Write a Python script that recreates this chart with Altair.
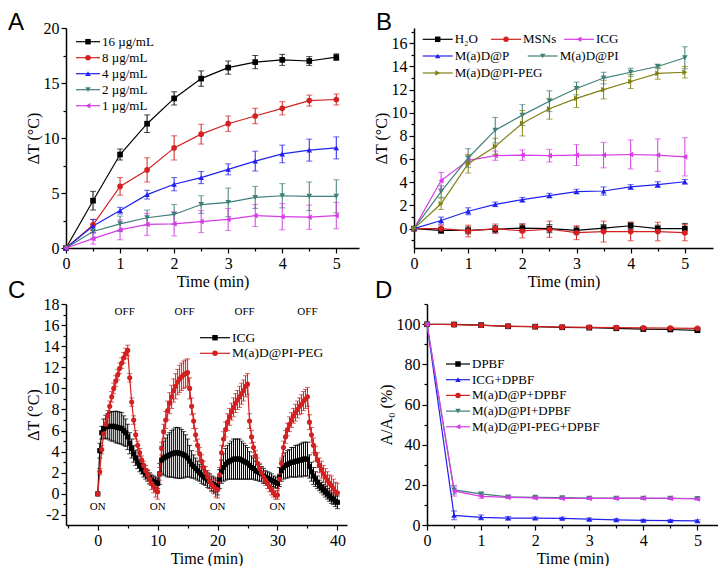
import altair as alt
import pandas as pd

SERIF = "Liberation Serif"
SANS = "Liberation Sans"

# ---------------- Panel A ----------------
A_TIME = [0, 0.5, 1, 1.5, 2, 2.5, 3, 3.5, 4, 4.5, 5]
A_NAMES = ["16 µg/mL", "8 µg/mL", "4 µg/mL", "2 µg/mL", "1 µg/mL"]
A_COLORS = ["#000000", "#d42020", "#2020f0", "#3f7f78", "#d63ce6"]
A_SHAPES = ["square", "circle", "triangle-up", "triangle-down", "triangle-left"]
A_16 = [0, 4.3, 8.5, 11.3, 13.6, 15.4, 16.4, 16.9, 17.1, 17.0, 17.35]
A_8 = [0, 2.1, 5.6, 7.1, 9.1, 10.35, 11.3, 12.0, 12.7, 13.4, 13.5]
A_4 = [0, 2.0, 3.4, 4.85, 5.8, 6.4, 7.15, 7.9, 8.55, 8.9, 9.1]
A_2 = [0, 1.5, 2.2, 2.75, 3.05, 3.95, 4.15, 4.6, 4.75, 4.7, 4.7]
A_1 = [0, 0.85, 1.65, 2.15, 2.2, 2.4, 2.6, 2.95, 2.85, 2.8, 2.95]
A_16_ERR = [0, 0.85, 0.5, 0.8, 0.6, 0.7, 0.6, 0.6, 0.5, 0.4, 0.3]
A_8_ERR = [0, 0.5, 0.8, 1.1, 1.1, 0.9, 0.7, 0.7, 0.6, 0.5, 0.5]
A_4_ERR = [0, 0.6, 0.3, 0.4, 0.6, 0.55, 0.5, 0.9, 0.8, 1.0, 1.0]
A_2_ERR = [0, 0.6, 0.7, 0.7, 0.9, 0.8, 1.3, 1.0, 1.1, 1.3, 1.5]
A_1_ERR = [0, 0.5, 0.9, 1.0, 1.1, 1.0, 1.0, 1.0, 1.2, 1.1, 1.2]

# ---------------- Panel B ----------------
B_TIME = A_TIME
B1_NAMES = ["H₂O", "MSNs", "ICG"]
B1_COLORS = ["#000000", "#d42020", "#d63ce6"]
B1_SHAPES = ["square", "circle", "triangle-left"]
B2_NAMES = ["M(a)D@P", "M(a)D@PI", "M(a)D@PI-PEG"]
B2_COLORS = ["#2020f0", "#3f7f78", "#808012"]
B2_SHAPES = ["triangle-up", "triangle-down", "triangle-right"]
B_H2O = [0, -0.15, -0.15, -0.05, 0.05, 0.0, -0.15, 0.05, 0.25, 0.0, 0.0]
B_MSN = [0, 0.0, -0.2, 0.0, -0.2, -0.05, -0.35, -0.25, -0.25, -0.25, -0.35]
B_ICG = [0, 4.15, 5.9, 6.3, 6.35, 6.3, 6.35, 6.35, 6.4, 6.35, 6.2]
B_P = [0, 0.7, 1.5, 2.1, 2.5, 2.85, 3.2, 3.25, 3.6, 3.8, 4.05]
B_PI = [0, 3.2, 6.1, 8.5, 9.8, 11.0, 12.1, 13.0, 13.5, 14.0, 14.75]
B_PEG = [0, 2.15, 5.6, 7.1, 9.1, 10.35, 11.25, 12.0, 12.7, 13.4, 13.5]
B_H2O_ERR = [0, 0.25, 0.3, 0.3, 0.35, 0.35, 0.3, 0.3, 0.3, 0.3, 0.45]
B_MSN_ERR = [0, 0.3, 0.5, 0.4, 0.6, 0.7, 0.6, 0.9, 0.8, 0.8, 0.7]
B_ICG_ERR = [0, 0.7, 0.35, 0.4, 0.45, 0.55, 0.9, 1.1, 1.25, 1.4, 1.65]
B_P_ERR = [0, 0.3, 0.3, 0.2, 0.2, 0.2, 0.2, 0.35, 0.2, 0.25, 0.2]
B_PI_ERR = [0, 0.5, 0.8, 1.1, 0.9, 0.9, 0.55, 0.5, 0.35, 0.2, 0.95]
B_PEG_ERR = [0, 0.5, 0.8, 0.7, 1.1, 0.9, 0.8, 0.8, 0.6, 0.5, 0.5]

# ---------------- Panel C ----------------
C_TIME = [round(k / 3, 4) for k in range(121)]  # sampling every 20 s
C_NAMES = ["ICG", "M(a)D@PI-PEG"]
C_COLORS = ["#000000", "#d42020"]
C_SHAPES = ["square", "circle"]
C_ICG = [0, 4.1, 5.8, 6.2, 6.35, 6.4, 6.4, 6.4, 6.4, 6.35, 6.3, 6.25, 6.2, 6.0, 5.8, 5.4,
         4.8, 4.3, 3.8, 3.4, 3.0, 2.7, 2.4, 2.1, 1.9, 1.7, 1.5, 1.3, 1.2, 1.1, 1.0,
         1.9, 3.2, 3.4, 3.5, 3.6, 3.7, 3.8, 3.85, 3.9, 3.9, 3.85, 3.8, 3.7, 3.6, 3.4,
         3.1, 2.8, 2.6, 2.4, 2.2, 2.0, 1.8, 1.6, 1.5, 1.3, 1.2, 1.0, 0.9, 0.8, 0.6,
         1.4, 2.1, 2.5, 2.8, 3.0, 3.1, 3.2, 3.3, 3.3, 3.3, 3.3, 3.2, 3.1, 3.0, 2.9,
         2.7, 2.5, 2.4, 2.2, 2.1, 2.0, 1.9, 1.7, 1.6, 1.5, 1.4, 1.3, 1.2, 1.1, 1.0,
         1.6, 2.2, 2.5, 2.7, 2.8, 2.9, 3.0, 3.0, 3.1, 3.1, 3.2, 3.2, 3.3, 3.3, 3.3,
         2.6, 2.1, 1.7, 1.4, 1.1, 0.8, 0.6, 0.4, 0.2, 0.0, -0.2, -0.4, -0.5, -0.7, -0.8]
C_ICG_ERR = [0, 0.7, 0.6, 0.9, 1.1, 1.2, 1.3, 1.4, 1.4, 1.5, 1.5, 1.5, 1.5, 1.4, 1.3, 1.2,
             1.0, 0.9, 0.8, 0.7, 0.6, 0.6, 0.5, 0.5, 0.5, 0.5, 0.5, 0.5, 0.5, 0.5, 0.5,
             1.0, 1.3, 1.6, 1.8, 2.0, 2.1, 2.2, 2.3, 2.4, 2.4, 2.4, 2.3, 2.2, 2.0, 1.8,
             1.5, 1.3, 1.1, 1.0, 0.9, 0.8, 0.8, 0.7, 0.7, 0.7, 0.7, 0.7, 0.7, 0.7, 0.7,
             0.9, 1.1, 1.3, 1.5, 1.6, 1.7, 1.8, 1.9, 1.9, 1.9, 1.9, 1.8, 1.7, 1.6, 1.5,
             1.3, 1.1, 1.0, 0.9, 0.8, 0.8, 0.7, 0.7, 0.6, 0.6, 0.6, 0.6, 0.5, 0.5, 0.5,
             0.9, 1.0, 1.1, 1.2, 1.3, 1.3, 1.4, 1.4, 1.5, 1.5, 1.5, 1.6, 1.6, 1.6, 1.6,
             1.1, 0.9, 0.8, 0.7, 0.6, 0.5, 0.5, 0.5, 0.5, 0.5, 0.5, 0.5, 0.5, 0.5, 0.6]
C_PEG = [0, 2.1, 4.2, 5.7, 6.6, 7.4, 8.3, 9.2, 10.0, 10.7, 11.3, 11.9, 12.4, 12.9, 13.3, 13.6,
         11.0, 8.7, 7.0, 5.6, 4.6, 3.9, 3.2, 2.7, 2.2, 1.8, 1.4, 1.0, 0.7, 0.4, 0.2,
         1.9, 4.3, 5.9, 7.0, 7.9, 8.6, 9.2, 9.8, 10.2, 10.6, 10.9, 11.1, 11.3, 11.4, 11.5,
         10.0, 8.3, 6.9, 5.6, 4.6, 3.8, 3.1, 2.5, 2.0, 1.6, 1.2, 0.9, 0.7, 0.5, 0.4,
         1.8, 3.9, 5.2, 6.1, 6.8, 7.3, 7.8, 8.2, 8.6, 8.9, 9.2, 9.5, 9.8, 10.2, 10.4,
         6.9, 5.4, 4.4, 3.6, 2.9, 2.4, 2.0, 1.6, 1.3, 1.0, 0.7, 0.4, 0.1, -0.1, -0.1,
         1.4, 2.9, 4.4, 5.4, 6.1, 6.6, 7.0, 7.4, 7.7, 8.0, 8.3, 8.5, 8.8, 9.0, 9.2,
         6.8, 5.6, 4.6, 3.8, 3.2, 2.7, 2.3, 1.9, 1.6, 1.3, 1.0, 0.8, 0.5, 0.2, 0.1]
C_PEG_ERR = [0, 0.3, 0.4, 0.5, 0.5, 0.5, 0.5, 0.5, 0.5, 0.5, 0.5, 0.5, 0.5, 0.5, 0.5, 0.5,
             0.4, 0.4, 0.4, 0.4, 0.4, 0.4, 0.4, 0.4, 0.5, 0.5, 0.5, 0.6, 0.6, 0.7, 0.7,
             0.6, 0.6, 0.7, 0.8, 0.9, 1.0, 1.1, 1.1, 1.2, 1.2, 1.3, 1.3, 1.3, 1.3, 1.3,
             1.0, 0.8, 0.7, 0.6, 0.6, 0.6, 0.6, 0.6, 0.6, 0.6, 0.7, 0.7, 0.7, 0.8, 0.8,
             0.7, 0.7, 0.7, 0.7, 0.8, 0.8, 0.8, 0.9, 0.9, 0.9, 1.0, 1.0, 1.0, 1.0, 1.0,
             0.7, 0.6, 0.5, 0.5, 0.5, 0.5, 0.5, 0.5, 0.5, 0.5, 0.5, 0.5, 0.4, 0.4, 0.4,
             0.5, 0.5, 0.6, 0.6, 0.6, 0.7, 0.7, 0.7, 0.8, 0.8, 0.8, 0.9, 0.9, 0.9, 0.9,
             0.7, 0.7, 0.7, 0.7, 0.7, 0.7, 0.8, 0.8, 0.8, 0.8, 0.8, 0.9, 0.9, 0.9, 0.9]
C_ON_T = [0, 10, 20, 30]
C_ON_Y = [-1.2, -1.2, -1.2, -1.2]
C_OFF_T = [4.5, 14.5, 24.5, 35]
C_OFF_Y = [17.2, 17.2, 17.2, 17.2]

# ---------------- Panel D ----------------
D_TIME = A_TIME
D_NAMES = ["DPBF", "ICG+DPBF", "M(a)D@P+DPBF", "M(a)D@PI+DPBF", "M(a)D@PI-PEG+DPBF"]
D_COLORS = ["#000000", "#2020f0", "#d42020", "#3f7f78", "#d63ce6"]
D_SHAPES = ["square", "triangle-up", "circle", "triangle-down", "triangle-left"]
D_DPBF = [100, 99.9, 99.6, 99.0, 98.8, 98.5, 98.3, 98.0, 97.6, 97.4, 97.0]
D_ICG = [100, 4.8, 3.8, 3.4, 3.4, 3.3, 2.9, 2.6, 2.3, 2.2, 2.1]
D_P = [100, 99.8, 99.5, 99.1, 98.8, 98.6, 98.5, 98.3, 98.2, 98.1, 98.0]
D_PI = [100, 17.5, 15.5, 14.0, 13.8, 13.6, 13.4, 13.4, 13.3, 13.3, 13.2]
D_PEG = [100, 17.0, 14.3, 13.8, 13.5, 13.3, 13.3, 13.3, 13.4, 13.3, 13.0]
D_DPBF_ERR = [0, 0.3, 0.4, 0.4, 0.4, 0.4, 0.4, 0.5, 0.5, 0.5, 0.6]
D_ICG_ERR = [0, 2.2, 1.2, 0.8, 0.6, 0.6, 0.6, 0.5, 0.5, 0.5, 0.5]
D_P_ERR = [0, 0.3, 0.3, 0.3, 0.3, 0.3, 0.4, 0.4, 0.4, 0.4, 0.4]
D_PI_ERR = [0, 2.0, 0.8, 0.6, 0.5, 0.5, 0.5, 0.5, 0.5, 0.5, 0.5]
D_PEG_ERR = [0, 2.6, 1.0, 0.6, 0.6, 0.6, 0.6, 0.6, 0.6, 0.6, 0.6]

# ---------------- Axis ticks ----------------
HALF_TICKS = [0, 0.5, 1, 1.5, 2, 2.5, 3, 3.5, 4, 4.5, 5]
A_YTICKS = [0, 2.5, 5, 7.5, 10, 12.5, 15, 17.5, 20]
B_YTICKS = list(range(-1, 18))
C_XTICKS = [-5, 0, 5, 10, 15, 20, 25, 30, 35, 40]
C_YTICKS = list(range(-2, 19))
D_YTICKS = [0, 10, 20, 30, 40, 50, 60, 70, 80, 90, 100, 110]

# legend entry centres (pixels inside each plot area)
A_LEG_POS = [(22, 13.7), (22, 29.7), (22, 45.7), (22, 61.7), (22, 77.7)]
B1_LEG_POS = [(23.7, 11.3), (92, 11.3), (165, 11.3)]
B2_LEG_POS = [(23.7, 28), (128.7, 28), (23.7, 45)]
C_LEG_POS = [(149, 33.7), (149, 49.3)]
D_LEG_POS = [(31, 60), (31, 75.7), (31, 91.4), (31, 107.1), (31, 122.8)]

INDEP = dict(color="independent")


def long_df(times, names, values, errors):
    rows = []
    for n, vals, errs in zip(names, values, errors):
        for t, v, e in zip(times, vals, errs):
            rows.append({"t": t, "v": v, "lo": v - e, "hi": v + e, "series": n})
    return pd.DataFrame(rows)


def make_axis(title, values, minor_test):
    return alt.Axis(
        title=title,
        values=values,
        labelExpr=f"({minor_test}) ? '' : '' + datum.value",
        tickSize={"condition": {"test": minor_test, "value": 3}, "value": 5},
        labelFlush=False,
        labelOverlap=False,
    )


def series_layers(df, names, colors, shapes, xenc, yfn, size=32, cap=6):
    cscale = alt.Scale(domain=names, range=colors)
    base = alt.Chart(df)
    col = alt.Color("series:N", scale=cscale, legend=None)
    rules = base.mark_rule(strokeWidth=1).encode(x=xenc, y=yfn("lo"), y2="hi:Q", color=col)
    cap_lo = base.mark_tick(orient="horizontal", size=cap, thickness=1).encode(
        x=xenc, y=yfn("lo"), color=col)
    cap_hi = base.mark_tick(orient="horizontal", size=cap, thickness=1).encode(
        x=xenc, y=yfn("hi"), color=col)
    lines = base.mark_line(strokeWidth=1.2).encode(x=xenc, y=yfn("v"), color=col)
    layers = [rules, cap_lo, cap_hi, lines]
    for name, shape in zip(names, shapes):
        layers.append(
            base.transform_filter(alt.FieldEqualPredicate(field="series", equal=name))
            .mark_point(filled=True, shape=shape, size=size, opacity=1)
            .encode(x=xenc, y=yfn("v"), color=col)
        )
    return layers


def legend_layers(names, colors, shapes, centers, half, font_size=13, marker=30):
    one = pd.DataFrame({"k": [0]})
    layers = []
    for name, color, shape, (cx, cy) in zip(names, colors, shapes, centers):
        base = alt.Chart(one)
        layers.append(base.mark_rule(color=color, strokeWidth=1.2).encode(
            x=alt.value(cx - half), x2=alt.value(cx + half), y=alt.value(cy)))
        layers.append(base.mark_point(shape=shape, filled=True, color=color, size=marker,
                                      opacity=1).encode(x=alt.value(cx), y=alt.value(cy)))
        layers.append(base.mark_text(align="left", baseline="middle", font=SERIF,
                                     fontSize=font_size, color="black").encode(
            x=alt.value(cx + half + 2), y=alt.value(cy), text=alt.value(name)))
    return layers


def letter_layer(letter, dx, dy):
    return alt.Chart(pd.DataFrame({"txt": [letter]})).mark_text(
        font=SANS, fontSize=24, align="left", baseline="top", color="black"
    ).encode(x=alt.value(dx), y=alt.value(dy), text="txt:N")


def encoders(xdom, ydom, xticks, xminor, yticks, yminor, ytitle):
    xaxis = make_axis("Time (min)", xticks, xminor)
    yaxis = make_axis(ytitle, yticks, yminor)
    xenc = alt.X("t:Q", scale=alt.Scale(domain=xdom, nice=False, zero=False), axis=xaxis)

    def yfn(field):
        return alt.Y(f"{field}:Q", scale=alt.Scale(domain=ydom, nice=False, zero=False), axis=yaxis)
    return xenc, yfn


DT = "ΔT (°C)"

# Panel A
df_a = long_df(A_TIME, A_NAMES, [A_16, A_8, A_4, A_2, A_1],
               [A_16_ERR, A_8_ERR, A_4_ERR, A_2_ERR, A_1_ERR])
xa, ya = encoders([0, 5.42], [0, 20], HALF_TICKS, "datum.value % 1 !== 0",
                  A_YTICKS, "datum.value % 5 !== 0", DT)
panel_a = alt.layer(
    *series_layers(df_a, A_NAMES, A_COLORS, A_SHAPES, xa, ya),
    *legend_layers(A_NAMES, A_COLORS, A_SHAPES, A_LEG_POS, 12),
    letter_layer("A", -58, -17),
).properties(width=293, height=220)

# Panel B
df_b1 = long_df(B_TIME, B1_NAMES, [B_H2O, B_MSN, B_ICG], [B_H2O_ERR, B_MSN_ERR, B_ICG_ERR])
df_b2 = long_df(B_TIME, B2_NAMES, [B_P, B_PI, B_PEG], [B_P_ERR, B_PI_ERR, B_PEG_ERR])
xb, yb = encoders([0, 5.52], [-1.67, 17.32], HALF_TICKS, "datum.value % 1 !== 0",
                  B_YTICKS, "datum.value % 2 !== 0", DT)
panel_b = alt.layer(
    alt.layer(*series_layers(df_b1, B1_NAMES, B1_COLORS, B1_SHAPES, xb, yb)),
    alt.layer(*series_layers(df_b2, B2_NAMES, B2_COLORS, B2_SHAPES, xb, yb)),
    *legend_layers(B1_NAMES, B1_COLORS, B1_SHAPES, B1_LEG_POS, 15),
    *legend_layers(B2_NAMES, B2_COLORS, B2_SHAPES, B2_LEG_POS, 15),
    letter_layer("B", -38, -17),
).resolve_scale(**INDEP).properties(width=299, height=220)

# Panel C
df_c = long_df(C_TIME, C_NAMES, [C_ICG, C_PEG], [C_ICG_ERR, C_PEG_ERR])
xc, yc = encoders([-5.3, 41.6], [-2.95, 18], C_XTICKS, "datum.value % 10 !== 0",
                  C_YTICKS, "datum.value % 2 !== 0", DT)
on_df = pd.DataFrame({"t": C_ON_T, "v": C_ON_Y, "txt": ["ON"] * len(C_ON_T)})
off_df = pd.DataFrame({"t": C_OFF_T, "v": C_OFF_Y, "txt": ["OFF"] * len(C_OFF_T)})
on_layer = alt.Chart(on_df).mark_text(font=SERIF, fontSize=11, color="black").encode(
    x=xc, y=yc("v"), text="txt:N")
off_layer = alt.Chart(off_df).mark_text(font=SERIF, fontSize=11, color="black").encode(
    x=xc, y=yc("v"), text="txt:N")
panel_c = alt.layer(
    *series_layers(df_c, C_NAMES, C_COLORS, C_SHAPES, xc, yc, size=26, cap=5),
    on_layer, off_layer,
    *legend_layers(C_NAMES, C_COLORS, C_SHAPES, C_LEG_POS, 15, font_size=13.5),
    letter_layer("C", -58, -25),
).properties(width=281, height=221)

# Panel D
df_d = long_df(D_TIME, D_NAMES, [D_DPBF, D_ICG, D_P, D_PI, D_PEG],
               [D_DPBF_ERR, D_ICG_ERR, D_P_ERR, D_PI_ERR, D_PEG_ERR])
xd, yd = encoders([0, 5.38], [0, 110.1], HALF_TICKS, "datum.value % 1 !== 0",
                  D_YTICKS, "datum.value % 20 !== 0", "A/A₀ (%)")
panel_d = alt.layer(
    *series_layers(df_d, D_NAMES, D_COLORS, D_SHAPES, xd, yd),
    *legend_layers(D_NAMES, D_COLORS, D_SHAPES, D_LEG_POS, 12),
    letter_layer("D", -52, -25),
).properties(width=291, height=221)

row1 = alt.hconcat(panel_a, panel_b, spacing=14).resolve_scale(**INDEP)
row2 = alt.hconcat(panel_c, panel_d, spacing=28).resolve_scale(**INDEP)

chart = alt.vconcat(row1, row2, spacing=-10).resolve_scale(
    **INDEP
).properties(
    padding={"top": 3, "left": 0, "right": 0, "bottom": 0}
).configure_view(stroke=None).configure_axis(
    labelFont=SERIF, labelFontSize=16, titleFont=SERIF, titleFontSize=16,
    titleFontWeight="normal", labelColor="black", titleColor="black",
    domainColor="black", tickColor="black", domainWidth=1.5, tickWidth=1.2,
    grid=False, labelPadding=2, titlePadding=2,
)

chart.save("out.html", embed_options={"renderer": "svg", "actions": False})
